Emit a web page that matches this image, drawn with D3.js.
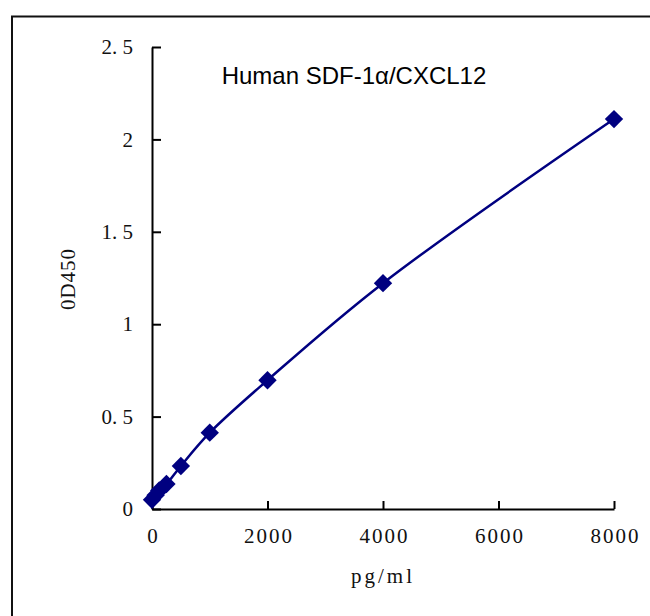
<!DOCTYPE html>
<html lang="en">
<head>
    <meta charset="UTF-8">
    <title>Human SDF-1α/CXCL12 standard curve</title>
    <script src="https://cdnjs.cloudflare.com/ajax/libs/d3/7.8.5/d3.min.js"></script>
    <style>
      body {
        margin: 0;
        background-color: white;
        overflow: hidden;
      }
      .tick text {
        font-family: "Liberation Serif", "DejaVu Serif", serif;
      }
    </style>
</head>
<body>
    <div id="chart"></div>
    <script>
        // standard curve values
        const concentrations = [0, 62.5, 125, 250, 500, 1000, 2000, 4000, 8000];
        const odValues = [0.05, 0.075, 0.1, 0.135, 0.233, 0.413, 0.697, 1.222, 2.11];
        const xTicks = [0, 2000, 4000, 6000, 8000];
        const yTicks = [0, 0.5, 1, 1.5, 2, 2.5];
        const yTickLabels = ["0", "0. 5", "1", "1. 5", "2", "2. 5"];

        const width = 650;
        const height = 616;
        const navy = "#000080";

        const svg = d3.select("#chart")
            .append("svg")
            .attr("width", width)
            .attr("height", height);

        // chart frame, runs off the right and bottom edges
        svg.append("rect")
            .attr("x", 12)
            .attr("y", 16.5)
            .attr("width", 700)
            .attr("height", 700)
            .attr("fill", "white")
            .attr("stroke", "#111")
            .attr("stroke-width", 2);

        const x = d3.scaleLinear().domain([0, 8000]).range([152, 614]);
        const y = d3.scaleLinear().domain([0, 2.5]).range([509, 47]);

        // x axis, ticks point up into the plot
        const xAxis = svg.append("g")
            .attr("transform", `translate(0,${y(0)})`)
            .call(d3.axisBottom(x).tickValues(xTicks).tickFormat(d3.format("d"))
                .tickSizeInner(-8).tickSizeOuter(0).tickPadding(19));
        xAxis.select(".domain").attr("stroke", "#000").attr("stroke-width", 2);
        xAxis.selectAll(".tick line").attr("stroke", "#000").attr("stroke-width", 2);
        xAxis.selectAll(".tick text")
            .attr("font-size", 21)
            .attr("letter-spacing", 2)
            .attr("dx", 1)
            .attr("fill", "#111");

        // y axis, ticks point right into the plot
        const yAxis = svg.append("g")
            .attr("transform", `translate(${x(0)},0)`)
            .call(d3.axisLeft(y).tickValues(yTicks)
                .tickFormat((d, i) => yTickLabels[i])
                .tickSizeInner(-9).tickSizeOuter(0).tickPadding(19));
        yAxis.select(".domain").attr("stroke", "#000").attr("stroke-width", 2);
        yAxis.selectAll(".tick line").attr("stroke", "#000").attr("stroke-width", 2);
        yAxis.selectAll(".tick text")
            .attr("font-size", 21)
            .attr("fill", "#111");

        // axis titles
        svg.append("text")
            .attr("x", 383)
            .attr("y", 583)
            .attr("text-anchor", "middle")
            .attr("font-family", "Liberation Serif, serif")
            .attr("font-size", 21)
            .attr("letter-spacing", 3)
            .attr("fill", "#111")
            .text("pg/ml");

        svg.append("text")
            .attr("transform", "translate(75,279) rotate(-90)")
            .attr("text-anchor", "middle")
            .attr("font-family", "Liberation Serif, serif")
            .attr("font-size", 21)
            .attr("letter-spacing", 1)
            .attr("fill", "#111")
            .text("0D450");

        svg.append("text")
            .attr("x", 354)
            .attr("y", 84)
            .attr("text-anchor", "middle")
            .attr("font-family", "Liberation Sans, Arial, sans-serif")
            .attr("font-size", 24)
            .attr("fill", "#000")
            .text("Human SDF-1α/CXCL12");

        const points = concentrations.map((c, i) => [c, odValues[i]]);

        const line = d3.line()
            .x(d => x(d[0]))
            .y(d => y(d[1]))
            .curve(d3.curveCatmullRom.alpha(0.5));

        svg.append("path")
            .datum(points)
            .attr("d", line)
            .attr("fill", "none")
            .attr("stroke", navy)
            .attr("stroke-width", 2.5);

        // diamond markers
        svg.selectAll(".marker")
            .data(points)
            .join("rect")
            .attr("class", "marker")
            .attr("x", -6.5)
            .attr("y", -6.5)
            .attr("width", 13)
            .attr("height", 13)
            .attr("transform", d => `translate(${x(d[0])},${y(d[1])}) rotate(45)`)
            .attr("fill", navy);
    </script>
</body>
</html>
